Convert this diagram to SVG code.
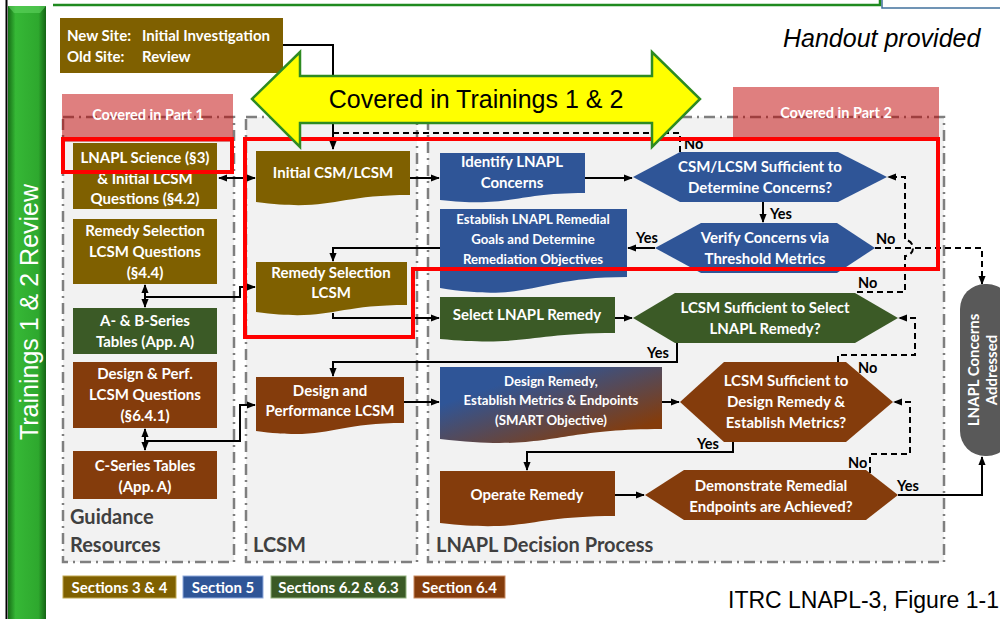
<svg xmlns="http://www.w3.org/2000/svg" width="1000" height="619" viewBox="0 0 1000 619">
<style>
.t{font-family:Lato,'Liberation Sans',sans-serif;font-weight:700;fill:#fff;text-anchor:middle;font-size:15px}
.s{font-size:13.2px}
.p{font-size:14.5px}
.lbl{font-family:Lato,'Liberation Sans',sans-serif;font-weight:700;fill:#000;font-size:14.5px}
.grp{font-family:Lato,'Liberation Sans',sans-serif;font-weight:700;fill:#404040;font-size:20px}
.conn{fill:none;stroke:#000;stroke-width:2}
.dash{stroke-dasharray:6 4}
.frame{fill:#f2f2f2;stroke:#7f7f7f;stroke-width:2.5;stroke-dasharray:11 5 2 5}
.olive{fill:#7f6000}
.blue{fill:#2f5597}
.green{fill:#3b5a26}
.brown{fill:#843c0c}
.pink{fill:#c00000;fill-opacity:0.5}
.red{fill:none;stroke:#ff0000;stroke-width:4}
</style>
<defs>
<marker id="ah" viewBox="0 0 10 10" refX="9" refY="5" markerWidth="9" markerHeight="9" markerUnits="userSpaceOnUse" orient="auto-start-reverse"><path d="M0,1 L10,5 L0,9 z" fill="#000"/></marker>
<linearGradient id="bar" x1="0" y1="0" x2="1" y2="0"><stop offset="0" stop-color="#166e16"/><stop offset="0.2" stop-color="#36b836"/><stop offset="0.8" stop-color="#2ea82e"/><stop offset="1" stop-color="#146414"/></linearGradient>
<linearGradient id="grad" x1="0" y1="0" x2="1" y2="1"><stop offset="0.25" stop-color="#2f5597"/><stop offset="0.85" stop-color="#843c0c"/></linearGradient>
</defs>
<rect width="1000" height="619" fill="#fff"/>
<!-- frame decorations -->
<line x1="6.5" y1="0" x2="6.5" y2="619" stroke="#000" stroke-width="2"/>
<rect x="8" y="6" width="38" height="613" fill="url(#bar)"/>
<polygon points="8,6 46,6 40,13 14,13" fill="#5fd35f" opacity="0.6"/>
<text transform="translate(38,312) rotate(-90)" font-family="'Liberation Sans',Arial,sans-serif" font-size="25" fill="#fff" text-anchor="middle">Trainings 1 &amp; 2 Review</text>
<polyline points="53,5 880,5 880,0" fill="none" stroke="#1f8a1f" stroke-width="2.5"/>
<rect x="882" y="-2" width="120" height="10" fill="#fff" stroke="#41719c" stroke-width="1.5"/>
<text x="783" y="47" font-family="'Liberation Sans',Arial,sans-serif" font-style="italic" font-size="25" fill="#000">Handout provided</text>

<!-- column frames -->
<g id="col-guidance"><rect class="frame" x="63" y="117" width="171" height="445"/><text class="grp" x="70" y="524">Guidance</text><text class="grp" x="70" y="552">Resources</text></g>
<g id="col-lcsm"><rect class="frame" x="246" y="117" width="171" height="445"/><text class="grp" x="253" y="552">LCSM</text></g>
<g id="col-decision"><rect class="frame" x="428" y="117" width="516" height="445"/><text class="grp" x="436" y="552">LNAPL Decision Process</text></g>

<g id="part1"><rect class="pink" x="62" y="94" width="171" height="48"/><text class="t p" x="148" y="120">Covered in Part 1</text></g>
<g id="part2"><rect class="pink" x="733" y="87" width="206" height="51"/><text class="t p" x="836" y="118">Covered in Part 2</text></g>

<!-- connectors -->
<g id="connectors">
<path class="conn" d="M283,45 H333 V149" marker-end="url(#ah)"/>
<path class="conn dash" d="M680,152 V133 H333"/>
<path class="conn" d="M219,178 H255" marker-start="url(#ah)" marker-end="url(#ah)"/>
<path class="conn" d="M145,285 V307" marker-start="url(#ah)" marker-end="url(#ah)"/>
<path class="conn" d="M145,297 H240 V287 H255" marker-end="url(#ah)"/>
<path class="conn" d="M145,429 V450" marker-start="url(#ah)" marker-end="url(#ah)"/>
<path class="conn" d="M145,441 H240 V405 H255" marker-end="url(#ah)"/>
<path class="conn" d="M410,178 H439" marker-end="url(#ah)"/>
<path class="conn" d="M585,178 H632" marker-end="url(#ah)"/>
<path class="conn" d="M763,202 V222" marker-end="url(#ah)"/>
<path class="conn" d="M655,248 H628" marker-end="url(#ah)"/>
<path class="conn" d="M440,248 H333 V261" marker-end="url(#ah)"/>
<path class="conn" d="M333,313 V318 H439" marker-end="url(#ah)"/>
<path class="conn" d="M615,318 H632" marker-end="url(#ah)"/>
<path class="conn" d="M677,343 V362 H333 V376" marker-end="url(#ah)"/>
<path class="conn" d="M404,402 H439" marker-end="url(#ah)"/>
<path class="conn" d="M662,402 H679" marker-end="url(#ah)"/>
<path class="conn" d="M733,442 V452 H527 V470" marker-end="url(#ah)"/>
<path class="conn" d="M615,495 H644" marker-end="url(#ah)"/>
<path class="conn" d="M898,495 H982 V457" marker-end="url(#ah)"/>
<path class="conn dash" d="M857,292 H905 V256 A8,8 0 0 0 905,240 V177 H888" marker-end="url(#ah)"/>
<path class="conn dash" d="M875,248 H982 V284" marker-end="url(#ah)"/>
<path class="conn dash" d="M838,362 V355 H915 V318 H899" marker-end="url(#ah)"/>
<path class="conn dash" d="M870,473 V454 H910 V402 H894" marker-end="url(#ah)"/>
</g>

<!-- guidance nodes -->
<g id="newsite"><rect class="olive" x="60" y="18" width="223" height="55"/>
<text class="t" style="text-anchor:start" x="67" y="41">New Site:</text><text class="t" style="text-anchor:start" x="142" y="41">Initial Investigation</text>
<text class="t" style="text-anchor:start" x="67" y="62">Old Site:</text><text class="t" style="text-anchor:start" x="142" y="62">Review</text></g>
<g id="g-science"><rect class="olive" x="73" y="143" width="144" height="66"/><text class="t" x="145" y="163">LNAPL Science (§3)</text><text class="t" x="145" y="184">&amp; Initial LCSM</text><text class="t" x="145" y="204">Questions (§4.2)</text></g>
<g id="g-remedy"><rect class="olive" x="73" y="219" width="144" height="65"/><text class="t" x="145" y="236">Remedy Selection</text><text class="t" x="145" y="257">LCSM Questions</text><text class="t" x="145" y="278">(§4.4)</text></g>
<g id="g-ab"><rect class="green" x="73" y="308" width="144" height="46"/><text class="t" x="145" y="326">A- &amp; B-Series</text><text class="t" x="145" y="347">Tables (App. A)</text></g>
<g id="g-design"><rect class="brown" x="73" y="362" width="144" height="66"/><text class="t" x="145" y="379">Design &amp; Perf.</text><text class="t" x="145" y="400">LCSM Questions</text><text class="t" x="145" y="421">(§6.4.1)</text></g>
<g id="g-c"><rect class="brown" x="73" y="451" width="144" height="48"/><text class="t" x="145" y="471">C-Series Tables</text><text class="t" x="145" y="492">(App. A)</text></g>

<!-- LCSM nodes -->
<g id="l-initial"><path class="olive" d="M256,151 H410 V195 C333,195 333,212 256,202 Z"/><text class="t" x="333" y="178">Initial CSM/LCSM</text></g>
<g id="l-remedy"><path class="olive" d="M256,262 H407 V305 C331,305 331,322 256,312 Z"/><text class="t" x="331" y="278">Remedy Selection</text><text class="t" x="331" y="298">LCSM</text></g>
<g id="l-design"><path class="brown" d="M256,377 H404 V423 C330,423 330,441 256,431 Z"/><text class="t" x="330" y="396">Design and</text><text class="t" x="330" y="416">Performance LCSM</text></g>

<!-- decision nodes -->
<g id="d-identify"><path class="blue" d="M440,153 H585 V193 C512,193 512,208 440,200 Z"/><text class="t" x="512" y="167">Identify LNAPL</text><text class="t" x="512" y="188">Concerns</text></g>
<g id="d-establish"><path class="blue" d="M440,209 H627 V277 C533,277 533,303 440,288 Z"/><text class="t s" x="533" y="224">Establish LNAPL Remedial</text><text class="t s" x="533" y="244">Goals and Determine</text><text class="t s" x="533" y="264">Remediation Objectives</text></g>
<g id="d-select"><path class="green" d="M440,297 H615 V333 C527,333 527,347 440,339 Z"/><text class="t" x="527" y="320">Select LNAPL Remedy</text></g>
<g id="d-designrem"><path fill="url(#grad)" d="M440,367 H662 V429 C551,429 551,452 440,439 Z"/><text class="t s" x="551" y="386">Design Remedy,</text><text class="t s" x="551" y="405">Establish Metrics &amp; Endpoints</text><text class="t s" x="551" y="425">(SMART Objective)</text></g>
<g id="d-operate"><path class="brown" d="M440,471 H615 V516 C527,516 527,533 440,523 Z"/><text class="t" x="527" y="500">Operate Remedy</text></g>
<g id="h-csm"><polygon class="blue" points="633,177 680,152 838,152 887,177 838,202 680,202"/><text class="t" x="760" y="172">CSM/LCSM Sufficient to</text><text class="t" x="760" y="193">Determine Concerns?</text></g>
<g id="h-verify"><polygon class="blue" points="655,248 701,223 837,223 875,248 837,273 701,273"/><text class="t" x="765" y="243">Verify Concerns via</text><text class="t" x="765" y="264">Threshold Metrics</text></g>
<g id="h-select"><polygon class="green" points="633,318 675,293 855,293 898,318 855,343 675,343"/><text class="t" x="765" y="313">LCSM Sufficient to Select</text><text class="t" x="765" y="334">LNAPL Remedy?</text></g>
<g id="h-design"><polygon class="brown" points="680,402 724,362 846,362 893,402 846,442 724,442"/><text class="t" x="786" y="386">LCSM Sufficient to</text><text class="t" x="786" y="407">Design Remedy &amp;</text><text class="t" x="786" y="428">Establish Metrics?</text></g>
<g id="h-demo"><polygon class="brown" points="645,495 684,470 866,470 898,495 866,520 684,520"/><text class="t" x="771" y="491">Demonstrate Remedial</text><text class="t" x="771" y="512">Endpoints are Achieved?</text></g>
<g id="pill"><rect x="960" y="284" width="52" height="172" rx="25" fill="#595959"/><text class="t" transform="translate(979,370) rotate(-90)">LNAPL Concerns</text><text class="t" transform="translate(997,370) rotate(-90)">Addressed</text></g>

<!-- connector labels -->
<g id="labels">
<text class="lbl" x="684" y="149">No</text>
<text class="lbl" x="770" y="219">Yes</text>
<text class="lbl" x="636" y="243">Yes</text>
<text class="lbl" x="876" y="244">No</text>
<text class="lbl" x="858" y="288">No</text>
<text class="lbl" x="647" y="358">Yes</text>
<text class="lbl" x="858" y="373">No</text>
<text class="lbl" x="697" y="449">Yes</text>
<text class="lbl" x="848" y="468">No</text>
<text class="lbl" x="897" y="491">Yes</text>
</g>

<!-- red highlight frames -->
<rect class="red" x="63" y="139" width="169" height="33"/>
<polygon class="red" points="245,139 938,139 938,269 413,269 413,337 245,337"/>

<!-- yellow double arrow -->
<g id="trainings"><polygon points="252,99 300,52 300,76 652,76 652,52 700,99 652,147 652,123 300,123 300,147" fill="#ffff00" stroke="#2e8b22" stroke-width="2.5" stroke-linejoin="miter"/>
<text x="476" y="108" font-family="'Liberation Sans',Arial,sans-serif" font-size="25" fill="#000" text-anchor="middle">Covered in Trainings 1 &amp; 2</text></g>

<!-- legend -->
<g id="legend">
<rect class="olive" x="63" y="576" width="113" height="22" stroke="#bfa64d" stroke-width="1"/><text class="t" x="119.5" y="593">Sections 3 &amp; 4</text>
<rect class="blue" x="183" y="576" width="80" height="22" stroke="#8faadc" stroke-width="1"/><text class="t" x="223" y="593">Section 5</text>
<rect class="green" x="271" y="576" width="135" height="22" stroke="#8fb07a" stroke-width="1"/><text class="t" x="338.5" y="593">Sections 6.2 &amp; 6.3</text>
<rect class="brown" x="414" y="576" width="91" height="22" stroke="#c98a60" stroke-width="1"/><text class="t" x="459.5" y="593">Section 6.4</text>
</g>
<text x="999" y="608" font-family="'Liberation Sans',Arial,sans-serif" font-size="23" fill="#000" text-anchor="end">ITRC LNAPL-3, Figure 1-1</text>
</svg>
